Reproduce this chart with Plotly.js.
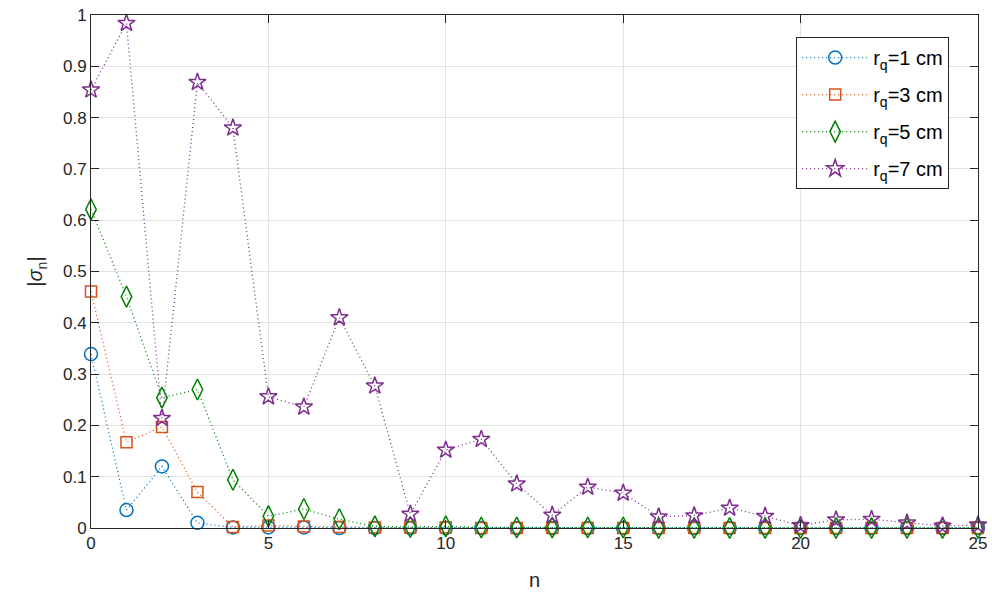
<!DOCTYPE html>
<html><head><meta charset="utf-8">
<script src="https://cdn.plot.ly/plotly-3.0.1.min.js"></script>
<style>html,body{margin:0;padding:0;background:#fff}#chart{width:992px;height:599px}</style>
</head><body><div id="chart"></div>
<script>
const n = [0,1,2,3,4,5,6,7,8,9,10,11,12,13,14,15,16,17,18,19,20,21,22,23,24,25];
const sigma_r1 = [0.339,0.035,0.120,0.010,0.001,0.001,0.001,0.000,0.000,0.000,0.000,0.000,0.000,0.000,0.000,0.000,0.000,0.000,0.000,0.000,0.000,0.000,0.000,0.000,0.000,0.000];
const sigma_r3 = [0.461,0.167,0.197,0.070,0.002,0.005,0.003,0.002,0.001,0.001,0.001,0.000,0.000,0.000,0.000,0.000,0.000,0.000,0.000,0.000,0.000,0.000,0.000,0.000,0.000,0.000];
const sigma_r5 = [0.621,0.451,0.254,0.270,0.094,0.023,0.037,0.017,0.003,0.002,0.003,0.001,0.001,0.001,0.001,0.001,0.000,0.000,0.000,0.000,0.000,0.000,0.000,0.000,0.000,0.000];
const sigma_r7 = [0.854,0.984,0.214,0.869,0.780,0.256,0.236,0.410,0.277,0.027,0.152,0.173,0.086,0.025,0.080,0.068,0.022,0.024,0.039,0.023,0.005,0.016,0.017,0.010,0.004,0.006];
const names = ['r<sub>q</sub>=1 cm','r<sub>q</sub>=3 cm','r<sub>q</sub>=5 cm','r<sub>q</sub>=7 cm'];
const colors = ['#0072BD','#D95319','#008000','#7E2F8E'];
const symbols = ['circle-open','square-open','diamond-tall-open','star-open'];
const sizes = [13,11,15,13];
const series = [sigma_r1,sigma_r3,sigma_r5,sigma_r7];

const traces = series.map((s,i)=>({
  x:n, y:s, type:'scatter', mode:'lines+markers', name:names[i], legendgroup:'g'+i,
  line:{color:colors[i], dash:'1px,3px', width:1.3},
  marker:{symbol:symbols[i], size:sizes[i], color:colors[i], line:{width:1.5, color:colors[i]}},
  cliponaxis:false
}));

const axcommon = {
  showline:true, linecolor:'#262626', linewidth:1, mirror:'allticks',
  ticks:'inside', ticklen:8, tickcolor:'#262626', tickwidth:1,
  showgrid:true, gridcolor:'#e3e3e3', gridwidth:1, zeroline:false,
  tickfont:{family:'Liberation Sans, Arial, sans-serif', size:17, color:'#262626'}
};
const layout = {
  width:992, height:599,
  margin:{l:91, r:14, t:15, b:71},
  paper_bgcolor:'#fff', plot_bgcolor:'#fff',
  font:{family:'Liberation Sans, Arial, sans-serif', size:17, color:'#262626'},
  xaxis:Object.assign({}, axcommon, {range:[0,25], tickvals:[0,5,10,15,20,25],
    title:{text:'n', font:{size:20}, standoff:20}}),
  yaxis:Object.assign({}, axcommon, {range:[0,1], tickvals:[0,0.1,0.2,0.3,0.4,0.5,0.6,0.7,0.8,0.9,1],
    ticktext:['0','0.1','0.2','0.3','0.4','0.5','0.6','0.7','0.8','0.9','1'],
    title:{text:'|<i>σ</i><sub>n</sub>|', font:{size:20}, standoff:14}}),
  legend:{x:0.795, y:0.957, xanchor:'left', yanchor:'top', bgcolor:'#fff',
    bordercolor:'#262626', borderwidth:1, font:{size:20, color:'#000'},
    itemwidth:66, tracegroupgap:8},
  showlegend:true
};
Plotly.newPlot('chart', traces, layout, {displayModeBar:false, staticPlot:true});
</script></body></html>
